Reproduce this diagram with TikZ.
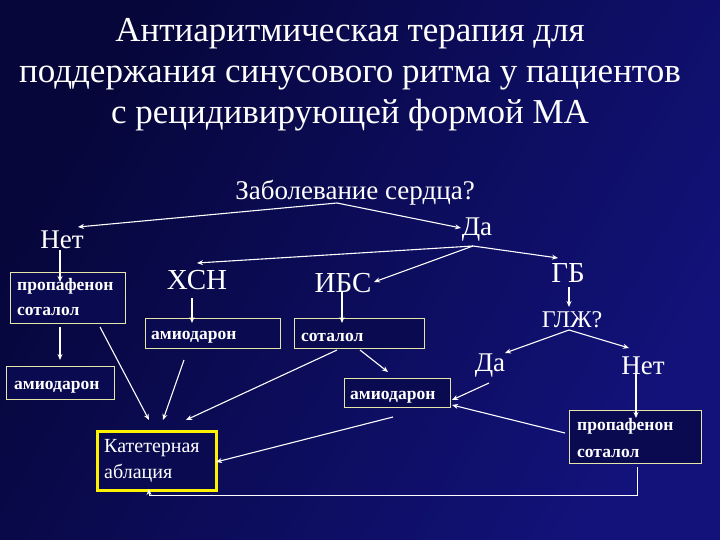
\documentclass[tikz,border=0pt]{standalone}
\usepackage{fontspec}
\setmainfont{Liberation Serif}
\usetikzlibrary{arrows.meta}
\definecolor{bgdark}{HTML}{06063A}
\definecolor{bglight}{HTML}{12127A}
\definecolor{boxfill}{HTML}{0A0A50}
\definecolor{boxline}{HTML}{E6E6A8}
\begin{document}
\begin{tikzpicture}[x=1pt,y=-1pt,
  lbl/.style={text=white,font=\fontsize{27}{29}\selectfont,inner sep=1pt},
  bx/.style={draw=boxline,fill=boxfill,line width=0.8pt,anchor=north west,inner sep=0pt},
  bt/.style={text=white,font=\fontsize{17.5}{25}\selectfont\bfseries,align=left,anchor=west,inner sep=0pt},
  ar/.style={draw=white,line width=1.1pt,-{Stealth[length=6pt,width=5pt]}}]
\shade[left color=bgdark,right color=bglight,shading angle=60] (0,0) rectangle (720,540);
\useasboundingbox (0,0) rectangle (720,540);
\node[text=white,align=center,font=\fontsize{35}{41}\selectfont] (title) at (350,75) {Антиаритмическая терапия для\\поддержания синусового ритма у пациентов\\с рецидивирующей формой МА};
\node[lbl] (q) at (355,193) {Заболевание сердца?};
\node[lbl] (net) at (62,240) {Нет};
\node[lbl] (da) at (477,230) {Да};
\node[lbl,font=\fontsize{29}{31}\selectfont] (hsn) at (197,280) {ХСН};
\node[lbl,font=\fontsize{29}{31}\selectfont] (ibs) at (343,283) {ИБС};
\node[lbl,font=\fontsize{29}{31}\selectfont] (gb) at (568,273) {ГБ};
\node[lbl,font=\fontsize{24}{26}\selectfont] (glzh) at (572,320) {ГЛЖ?};
\node[lbl] (da2) at (490,366) {Да};
\node[lbl] (net2) at (643,366) {Нет};
\node[bx,minimum width=115pt,minimum height=51pt] (b1) at (10,272) {};
\node[bt] (b1t) at (17,297) {пропафенон\\соталол};
\node[bx,minimum width=135pt,minimum height=30pt] (b2) at (145,318) {};
\node[bt] (b2t) at (151,337) {амиодарон};
\node[bx,minimum width=130pt,minimum height=30pt] (b3) at (294,318) {};
\node[bt] (b3t) at (301,337) {соталол};
\node[bx,minimum width=108pt,minimum height=33pt] (b4) at (6,366) {};
\node[bt] (b4t) at (14,387) {амиодарон};
\node[bx,minimum width=106pt,minimum height=29pt] (b5) at (344,378) {};
\node[bt] (b5t) at (350,397) {амиодарон};
\node[bx,minimum width=132pt,minimum height=53pt] (b6) at (569,410) {};
\node[bt,font=\fontsize{17.5}{27}\selectfont\bfseries] (b6t) at (577,438) {пропафенон\\соталол};
\node[bx,draw=yellow,line width=3pt,minimum width=119pt,minimum height=59pt] (ka) at (96,430) {};
\node[bt,font=\fontsize{20}{26}\selectfont] (kat) at (104,461) {Катетерная\\аблация};
\coordinate (qa) at (337,203);
\coordinate (daa) at (473,246);
\draw[ar] (qa) -- (78,227);
\draw[ar] (qa) -- (461,228);
\draw[ar] (daa) -- (197,263);
\draw[ar] (daa) -- (374,282);
\draw[ar] (daa) -- (558,258);
\draw[ar] (60,250) -- (60,282);
\draw[ar] (60,327) -- (60,360);
\draw[ar] (100,327) -- (149,420);
\draw[ar] (192,298) -- (192,323);
\draw[ar] (184,360) -- (163,420);
\draw[ar] (342,292) -- (342,323);
\draw[ar] (337,350) -- (186,420);
\draw[ar] (360,350) -- (388,372);
\draw[ar] (569,287) -- (569,307);
\draw[ar] (569,330) -- (505,353);
\draw[ar] (569,330) -- (629,348);
\draw[ar] (489,383) -- (452,400);
\draw[ar] (636,373) -- (636,418);
\draw[ar] (565,433) -- (452,405);
\draw[ar] (393,417) -- (216,462);
\draw[ar,line width=0.9pt] (637,467) -- (637,495) -- (149,495) -- (149,489);
\end{tikzpicture}
\end{document}
